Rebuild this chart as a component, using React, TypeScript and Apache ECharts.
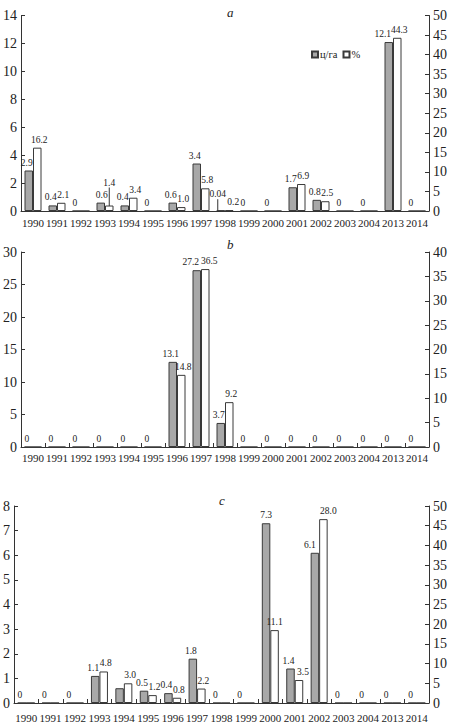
import React, { useEffect, useRef } from "react";
import * as echarts from "echarts";

const years = ["1990","1991","1992","1993","1994","1995","1996","1997","1998","1999","2000","2001","2002","2003","2004","2013","2014"];

const grayA = [2.9, 0.4, 0, 0.6, 0.4, 0, 0.6, 3.4, 0.04, 0, 0, 1.7, 0.8, 0, 0, 12.1, 0];
const whiteA = [16.2, 2.1, 0, 1.4, 3.4, 0, 1.0, 5.8, 0.2, 0, 0, 6.9, 2.5, 0, 0, 44.3, 0];

const grayB = [0, 0, 0, 0, 0, 0, 13.1, 27.2, 3.7, 0, 0, 0, 0, 0, 0, 0, 0];
const whiteB = [0, 0, 0, 0, 0, 0, 14.8, 36.5, 9.2, 0, 0, 0, 0, 0, 0, 0, 0];

const grayC = [0, 0, 0, 1.1, 0.6, 0.5, 0.4, 1.8, 0, 0, 7.3, 1.4, 6.1, 0, 0, 0, 0];
const whiteC = [0, 0, 0, 4.8, 3.0, 1.2, 0.8, 2.2, 0, 0, 11.1, 3.5, 28.0, 0, 0, 0, 0];

const panelTitles = ["a", "b", "c"];
const seriesNames = ["ц/га", "%"];

const SERIF = "Liberation Serif";
const AXIS = "#333";

const fmtGray = (p: any) => {
  const v = typeof p.value === "number" ? p.value : p.value?.value;
  if (v === 0) return "0";
  return v < 0.1 ? String(v) : v.toFixed(1);
};
const fmtWhite = (p: any) => {
  const v = p.value;
  if (v === 0) return "";
  return v < 0.1 ? String(v) : v.toFixed(1);
};

const labelBase = {
  show: true,
  position: "top",
  distance: 3,
  fontSize: 9.5,
  fontFamily: SERIF,
  color: "#222",
};

const grayShift = (special: Record<number, any>) => (p: any) => {
  if (special[p.dataIndex]) return special[p.dataIndex];
  return { dx: -2 };
};
const whiteShift = (special: Record<number, any>) => (p: any) => {
  if (special[p.dataIndex]) return special[p.dataIndex];
  return { dx: 2 };
};

export default function App() {
  const ref = useRef<HTMLDivElement>(null);
  useEffect(() => {
    document.body.style.margin = "0";
    const chart = echarts.init(ref.current!, undefined, { renderer: "svg" });

    const grids = [
      { left: 19, width: 414, top: 15.5, height: 195.5 },
      { left: 18.5, width: 414.5, top: 252, height: 195 },
      { left: 12.3, width: 420.7, top: 506, height: 200 },
    ];

    const xAxes = grids.map((_, i) => ({
      type: "category",
      gridIndex: i,
      data: years,
      axisLine: { lineStyle: { color: AXIS, width: 1 } },
      axisTick: { show: i > 0, inside: true, length: 4, lineStyle: { color: AXIS } },
      axisLabel: {
        fontSize: 11,
        fontFamily: SERIF,
        color: "#222",
        margin: i === 0 ? 6 : i === 1 ? 5 : 9,
        interval: 0,
      },
    }));

    const yAx = (grid: number, max: number, interval: number, position: string, extra: any = {}) => ({
      type: "value",
      gridIndex: grid,
      min: 0,
      max,
      interval,
      position,
      axisLine: { show: true, lineStyle: { color: AXIS, width: 1 } },
      axisTick: { show: true, inside: true, length: 4, lineStyle: { color: AXIS } },
      axisLabel: { fontSize: 14, fontFamily: SERIF, color: "#222", margin: 4 },
      splitLine: { show: false },
      ...extra,
    });

    const yAxes = [
      yAx(0, 14, 2, "left"),
      yAx(0, 50, 5, "right"),
      yAx(1, 30, 5, "left"),
      yAx(1, 40, 5, "right"),
      yAx(2, 8, 1, "left"),
      yAx(2, 50, 5, "right"),
      yAx(2, 30, 5, "right", { show: false }),
    ];

    const grayStyle = { color: "#a8a8a8", borderColor: "#3a3a3a", borderWidth: 1 };
    const whiteStyle = { color: "#ffffff", borderColor: "#3a3a3a", borderWidth: 1 };

    const barCommon = { type: "bar", barWidth: 8.5, barGap: "0%" };
    const leader = { show: true, lineStyle: { color: "#333", width: 1 } };

    const grayAData = grayA.map((v, i) => (i === 8 ? { value: v, labelLine: leader } : v));
    const whiteAData = whiteA.map((v, i) => (i === 3 ? { value: v, labelLine: leader } : v));
    const grayCData = grayC.map((v, i) => (i === 4 ? { value: v, label: { show: false } } : v));

    const series: any[] = [
      {
        ...barCommon, barGap: "10%", name: seriesNames[0], xAxisIndex: 0, yAxisIndex: 0, data: grayAData,
        itemStyle: grayStyle, label: { ...labelBase, formatter: fmtGray },
        labelLayout: grayShift({ 8: { dy: -8, dx: -3 }, 15: { dx: -6 }, 3: { dx: 1 } }),
      },
      {
        ...barCommon, name: seriesNames[1], xAxisIndex: 0, yAxisIndex: 1, data: whiteAData,
        itemStyle: whiteStyle, label: { ...labelBase, formatter: fmtWhite },
        labelLayout: whiteShift({ 3: { dy: -15 }, 8: { dx: 4 } }),
      },
      {
        ...barCommon, name: seriesNames[0], xAxisIndex: 1, yAxisIndex: 2, data: grayB,
        itemStyle: grayStyle, label: { ...labelBase, formatter: fmtGray },
        labelLayout: grayShift({ 7: { dx: -6 } }),
      },
      {
        ...barCommon, name: seriesNames[1], xAxisIndex: 1, yAxisIndex: 3, data: whiteB,
        itemStyle: whiteStyle, label: { ...labelBase, formatter: fmtWhite },
        labelLayout: whiteShift({ 7: { dx: 4 } }),
      },
      {
        ...barCommon, name: seriesNames[0], xAxisIndex: 2, yAxisIndex: 4, data: grayCData,
        itemStyle: grayStyle, label: { ...labelBase, formatter: fmtGray },
        labelLayout: grayShift({ 12: { dx: -5 }, 10: { dx: 0 } }),
      },
      {
        ...barCommon, name: seriesNames[1], xAxisIndex: 2, yAxisIndex: 6, data: whiteC,
        itemStyle: whiteStyle, label: { ...labelBase, formatter: fmtWhite },
        labelLayout: whiteShift({ 12: { dx: 5 }, 11: { dx: 4 }, 10: { dx: 0 } }),
      },
    ];

    const titlePos = [
      { left: 222, top: 1 },
      { left: 222, top: 233 },
      { left: 214, top: 489 },
    ];

    chart.setOption({
      animation: false,
      backgroundColor: "#ffffff",
      title: panelTitles.map((t, i) => ({
        text: t,
        left: titlePos[i].left,
        top: titlePos[i].top,
        textStyle: { fontSize: 13, fontStyle: "italic", fontWeight: "normal", fontFamily: SERIF, color: "#222" },
      })),
      legend: {
        data: seriesNames,
        left: 306,
        top: 44,
        icon: "rect",
        itemWidth: 6,
        itemHeight: 6,
        itemGap: 5,
        textStyle: { fontSize: 10.5, fontFamily: SERIF, color: "#222", padding: [0, 0, 0, -3] },
        selectedMode: false,
      },
      grid: grids,
      xAxis: xAxes,
      yAxis: yAxes,
      series,
    });
    return () => chart.dispose();
  }, []);
  return <div ref={ref} style={{ width: 450, height: 723 }} />;
}
